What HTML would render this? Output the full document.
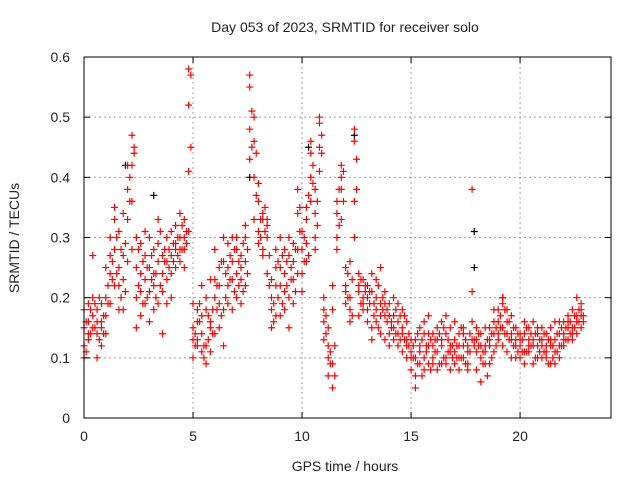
<!DOCTYPE html>
<html><head><meta charset="utf-8"><style>
body{margin:0;background:#fff;}
svg{display:block;font-family:"Liberation Sans",sans-serif;}
</style></head><body>
<svg id="chart" width="640" height="480" viewBox="0 0 640 480" xmlns="http://www.w3.org/2000/svg">
<rect width="640" height="480" fill="#fff"/>
<g id="grid"></g><g id="marks"></g><g id="axes"></g>
</svg>
<script>
const times=[0,0.2,0.4,0.6,0.8,1,1.2,1.4,1.6,1.8,2,2.2,2.4,2.6,2.8,3,3.2,3.4,3.6,3.8,4,4.2,4.4,4.6,4.8,5,5.2,5.4,5.6,5.8,6,6.2,6.4,6.6,6.8,7,7.2,7.4,7.6,7.8,8,8.2,8.4,8.6,8.8,9,9.2,9.4,9.6,9.8,10,10.2,10.4,10.6,10.8,11,11.2,11.4,11.6,11.8,12,12.2,12.4,12.6,12.8,13,13.2,13.4,13.6,13.8,14,14.2,14.4,14.6,14.8,15,15.2,15.4,15.6,15.8,16,16.2,16.4,16.6,16.8,17,17.2,17.4,17.6,17.8,18,18.2,18.4,18.6,18.8,19,19.2,19.4,19.6,19.8,20,20.2,20.4,20.6,20.8,21,21.2,21.4,21.6,21.8,22,22.2,22.4,22.6,22.8];
const valsA=[.15,.13,.17,.16,.12,.20,.24,.28,.22,.18,.38,.42,.30,.21,.27,.25,.22,.33,.24,.26,.27,.29,.30,.28,.31,.15,.13,.17,.12,.16,.20,.25,.18,.22,.26,.24,.27,.22,.43,.50,.31,.34,.30,.18,.22,.25,.28,.20,.26,.34,.28,.33,.44,.38,.49,.16,.10,.18,.34,.38,.22,.18,.46,.21,.19,.18,.21,.16,.19,.17,.17,.15,.19,.14,.13,.11,.13,.09,.14,.12,.10,.13,.12,.09,.15,.11,.14,.10,.12,.16,.13,.10,.12,.15,.14,.16,.19,.14,.13,.12,.12,.14,.11,.13,.15,.12,.10,.13,.11,.14,.14,.16,.13,.17,.15];
const valsB=[.12,.19,.15,.10,.19,.17,.30,.33,.25,.23,.33,.47,.25,.17,.23,.21,.28,.19,.27,.23,.24,.32,.26,.30,.41,.10,.18,.14,.20,.11,.28,.15,.30,.19,.23,.30,.19,.26,.55,.46,.36,.28,.33,.15,.25,.22,.18,.30,.23,.28,.24,.35,.40,.30,.45,.13,.07,.22,.30,.42,.25,.20,.48,.17,.23,.20,.15,.23,.14,.21,.14,.20,.12,.18,.16,.08,.10,.12,.16,.09,.12,.08,.16,.14,.11,.09,.12,.15,.08,.13,.08,.14,.11,.09,.16,.13,.15,.18,.10,.15,.10,.16,.13,.09,.12,.15,.12,.09,.16,.12,.12,.15,.18,.14,.19];
const valsC=[.18,.16,.27,.14,.16,.25,.19,.35,.18,.27,.26,.36,.20,.29,.19,.30,.18,.26,.21,.30,.31,.25,.28,.33,.52,.19,.12,.22,.09,.15,.14,.22,.26,.29,.18,.20,.25,.32,.57,.40,.29,.33,.24,.20,.17,.30,.24,.27,.19,.38,.31,.26,.46,.34,.50,.20,.12,.05,.36,.33,.19,.26,.36,.24,.20,.16,.24,.18,.25,.13,.19,.13,.16,.11,.12,.13,.07,.15,.10,.14,.14,.11,.09,.17,.12,.13,.10,.12,.11,.38,.11,.06,.15,.12,.18,.18,.12,.16,.14,.10,.14,.09,.15,.12,.10,.10,.14,.12,.13,.10,.16,.13,.15,.20,.17];
const valsD=[.10,.14,.20,.18,.15,.14,.27,.22,.31,.34,.42,.28,.15,.24,.31,.16,.24,.29,.14,.19,.20,.28,.34,.25,.58,.13,.16,.11,.18,.23,.23,.19,.12,.25,.30,.28,.23,.30,.48,.33,.39,.27,.32,.23,.28,.17,.21,.15,.29,.24,.21,.29,.36,.28,.41,.18,.15,.09,.28,.40,.21,.16,.30,.22,.18,.22,.13,.20,.17,.19,.12,.17,.14,.15,.10,.10,.05,.11,.08,.17,.09,.15,.13,.10,.08,.16,.08,.14,.09,.21,.15,.12,.09,.13,.11,.14,.20,.11,.17,.13,.13,.11,.12,.16,.14,.13,.11,.15,.09,.16,.13,.17,.14,.16,.18];
const times2=[0.1,0.3,0.5,0.7,0.9,1.1,1.3,1.5,1.7,1.9,2.1,2.3,2.5,2.7,2.9,3.1,3.3,3.5,3.7,3.9,4.1,4.3,4.5,4.7,4.9,5.1,5.3,5.5,5.7,5.9,6.1,6.3,6.5,6.7,6.9,7.1,7.3,7.5,7.7,7.9,8.1,8.3,8.5,8.7,8.9,9.1,9.3,9.5,9.7,9.9,10.1,10.3,10.5,10.7,10.9,11.1,11.3,11.5,11.7,11.9,12.1,12.3,12.5,12.7,12.9,13.1,13.3,13.5,13.7,13.9,14.1,14.3,14.5,14.7,14.9,15.1,15.3,15.5,15.7,15.9,16.1,16.3,16.5,16.7,16.9,17.1,17.3,17.5,17.7,17.9,18.1,18.3,18.5,18.7,18.9,19.1,19.3,19.5,19.7,19.9,20.1,20.3,20.5,20.7,20.9,21.1,21.3,21.5,21.7,21.9,22.1,22.3,22.5,22.7,22.9];
const valsE=[.16,.14,.19,.13,.17,.22,.26,.24,.20,.29,.40,.44,.28,.19,.25,.27,.24,.22,.28,.25,.29,.27,.32,.29,.45,.14,.16,.12,.17,.14,.22,.17,.24,.27,.21,.26,.21,.28,.51,.44,.33,.31,.27,.19,.26,.27,.22,.25,.21,.31,.30,.27,.42,.36,.47,.14,.11,.07,.32,.36,.20,.23,.43,.19,.22,.19,.17,.22,.18,.16,.16,.18,.13,.17,.12,.12,.09,.13,.11,.08,.11,.14,.10,.13,.12,.12,.10,.13,.11,.12,.12,.09,.13,.10,.15,.17,.14,.16,.12,.11,.13,.11,.14,.10,.13,.11,.13,.10,.14,.12,.15,.14,.17,.16,.16];
const valsF=[.11,.18,.15,.20,.14,.19,.23,.30,.28,.21,.36,.45,.22,.26,.20,.23,.20,.31,.26,.28,.26,.30,.28,.31,.57,.12,.19,.10,.13,.18,.18,.26,.20,.23,.28,.22,.29,.24,.45,.37,.30,.35,.22,.16,.20,.19,.26,.23,.28,.35,.26,.37,.39,.32,.44,.17,.09,.12,.38,.41,.24,.17,.38,.23,.21,.21,.19,.15,.20,.18,.15,.14,.17,.13,.14,.10,.14,.07,.12,.13,.13,.09,.15,.11,.10,.10,.15,.09,.14,.13,.14,.11,.07,.14,.12,.15,.18,.13,.15,.14,.11,.15,.12,.14,.11,.14,.09,.12,.11,.15,.13,.16,.15,.18,.17];
const blackTimes=[1.9,3.2,7.6,10.3,12.4,17.9,17.9,19.2];
const blackVals=[.42,.37,.40,.45,.47,.31,.25,.20];
const xTicks=[0,5,10,15,20];
const yTicks=[0,0.1,0.2,0.3,0.4,0.5,0.6];
const yTickLabels=["0","0.1","0.2","0.3","0.4","0.5","0.6"];

const L=84,R=611,T=57,B=418,XMAX=24.17,YMAX=0.6;
const sx=t=>L+(t/XMAX)*(R-L);
const sy=v=>B-(v/YMAX)*(B-T);
const NS="http://www.w3.org/2000/svg";
function mk(tag,parent,attrs){const e=document.createElementNS(NS,tag);for(const k in attrs)e.setAttribute(k,attrs[k]);parent.appendChild(e);return e;}
const grid=document.getElementById('grid'),marks=document.getElementById('marks'),axes=document.getElementById('axes');
xTicks.forEach(t=>{
  const x=sx(t);
  if(t>0){const g=mk('line',grid,{x1:x,x2:x,y1:T,y2:B,stroke:'#a0a0a0','stroke-dasharray':'2,3'});
  
  }
  const lb=mk('text',axes,{x:x,y:B+23,'text-anchor':'middle','font-size':'14',fill:'#222'});
  lb.textContent=String(t);
  
  
  mk('line',axes,{x1:x,x2:x,y1:B,y2:B-6,stroke:'#000'});
  mk('line',axes,{x1:x,x2:x,y1:T,y2:T+6,stroke:'#000'});
});
yTicks.forEach((v,i)=>{
  const y=sy(v);
  if(v>0&&v<YMAX){const g=mk('line',grid,{x1:L,x2:R,y1:y,y2:y,stroke:'#a0a0a0','stroke-dasharray':'2,3'});
  
  }
  const lb=mk('text',axes,{x:L-14,y:y+5,'text-anchor':'end','font-size':'14',fill:'#222'});
  lb.textContent=yTickLabels[i];
  
  
  mk('line',axes,{x1:L,x2:L+6,y1:y,y2:y,stroke:'#000'});
  mk('line',axes,{x1:R,x2:R-6,y1:y,y2:y,stroke:'#000'});
});
function cross(t,v,color,name){
  const x=sx(t),y=sy(v);
  const p=mk('path',marks,{d:`M${x-3.5},${y}H${x+3.5}M${x},${y-3.5}V${y+3.5}`,stroke:color,'stroke-width':'1.2',fill:'none'});
  
  
}
blackTimes.forEach((t,i)=>cross(t,blackVals[i],'#000','black-point'));
[valsA,valsB,valsC,valsD].forEach(arr=>times.forEach((t,i)=>cross(t,arr[i],'#f00','red-point')));
[valsE,valsF].forEach(arr=>times2.forEach((t,i)=>cross(t,arr[i],'#f00','red-point')));
const fr=mk('rect',axes,{x:L,y:T,width:R-L,height:B-T,fill:'none',stroke:'#000','stroke-width':'1'});


const title=mk('text',axes,{x:345,y:32,'text-anchor':'middle','font-size':'14',fill:'#222'});
title.textContent='Day 053 of 2023, SRMTID for receiver solo';


const xt=mk('text',axes,{x:345,y:471,'text-anchor':'middle','font-size':'14',fill:'#222'});
xt.textContent='GPS time / hours';


const yt=mk('text',axes,{x:0,y:0,'text-anchor':'middle','font-size':'14',fill:'#222',transform:'translate(19,238) rotate(-90)'});
yt.textContent='SRMTID / TECUs';


</script>
</body></html>
